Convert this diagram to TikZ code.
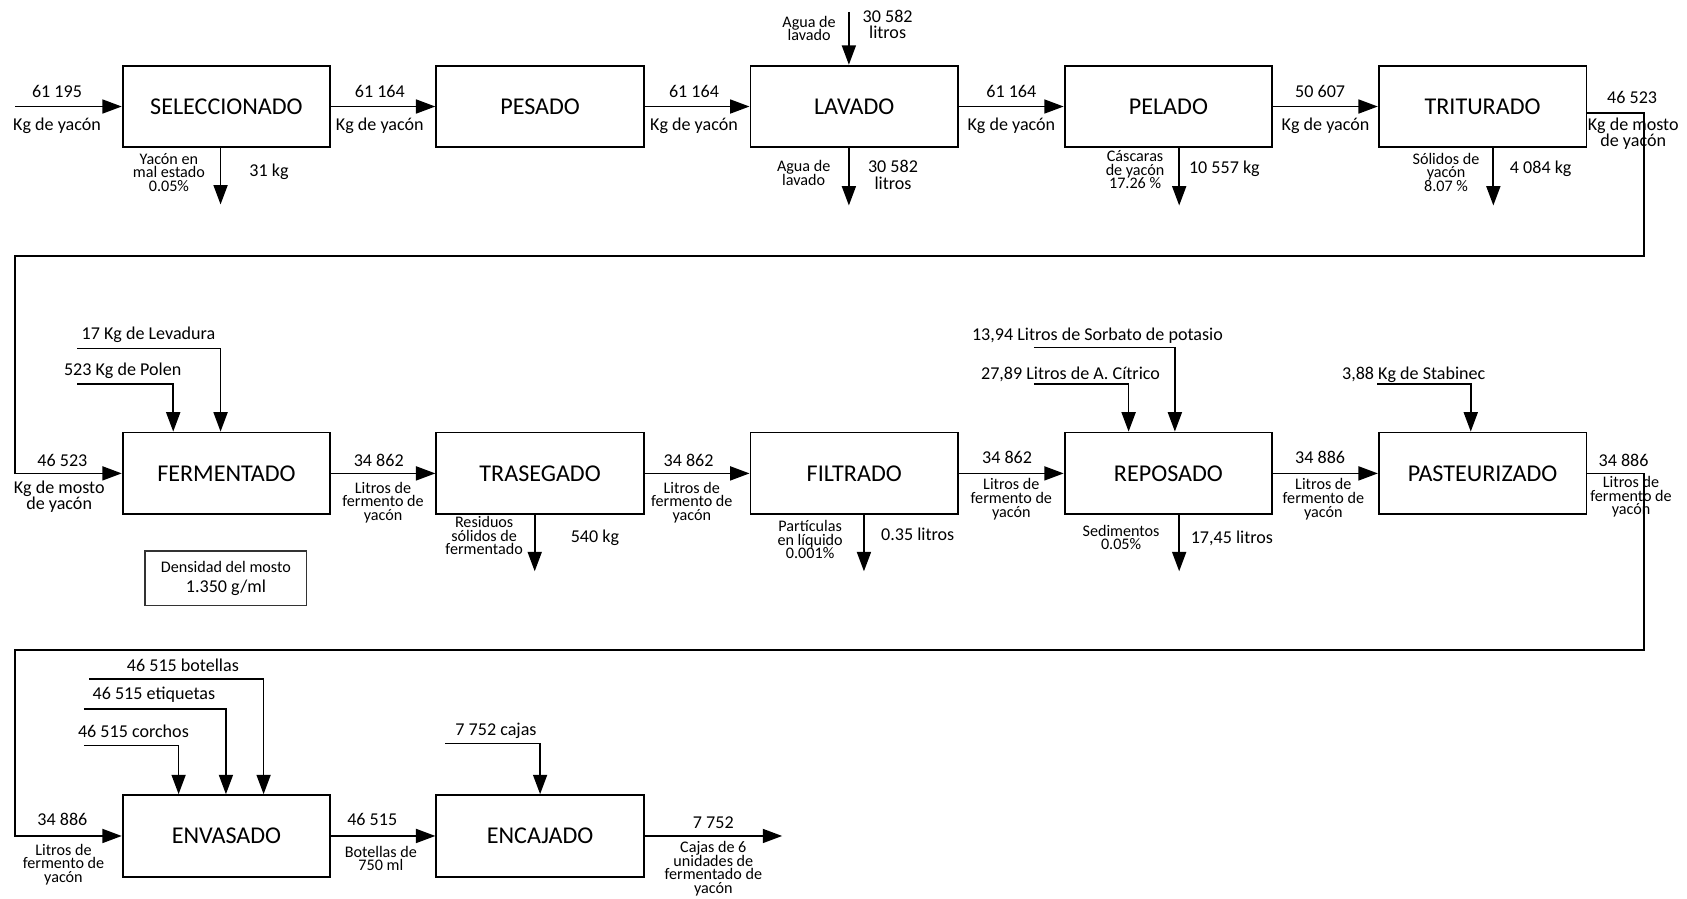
\documentclass[tikz,border=0pt]{standalone}
\usepackage{fontspec}
\setmainfont{Carlito}
\usepackage{tikz}
\usetikzlibrary{arrows.meta}
\newcommand\boxfont{\fontsize{11.2}{13}\selectfont}
\newcommand\qfont{\fontsize{8.4}{7.6}\selectfont\lineskiplimit=-20pt}
\newcommand\nfont{\fontsize{7.5}{6.3}\selectfont\lineskiplimit=-20pt}
\tikzset{
  proc/.style={draw, line width=0.85pt, minimum width=96.5pt, minimum height=38pt, inner sep=0pt, font=\boxfont},
  flow/.style={line width=0.8pt, -{Triangle[length=9pt,width=6.5pt]}},
  qty/.style={inner sep=0pt, align=center, font=\qfont},
  note/.style={inner sep=0pt, align=center, font=\nfont},
}
\begin{document}
\begin{tikzpicture}[x=0.5pt, y=0.5pt, yscale=-1]
\useasboundingbox (0,0) rectangle (1568,835);
\node[proc] (sel) at (210.5,99) {SELECCIONADO};
\node[proc] (pes) at (502,99) {PESADO};
\node[proc] (lav) at (794,99) {LAVADO};
\node[proc] (pel) at (1086,99) {PELADO};
\node[proc] (tri) at (1378,99) {TRITURADO};
\node[proc] (fer) at (210.5,440) {FERMENTADO};
\node[proc] (tra) at (502,440) {TRASEGADO};
\node[proc] (fil) at (794,440) {FILTRADO};
\node[proc] (rep) at (1086,440) {REPOSADO};
\node[proc] (pas) at (1378,440) {PASTEURIZADO};
\node[proc] (env) at (210.5,777) {ENVASADO};
\node[proc] (enc) at (502,777) {ENCAJADO};
\node[draw=black!80, line width=0.7pt, minimum width=75pt, minimum height=25.5pt, align=center, font=\nfont] (dens) at (210,537.5) {Densidad del mosto\\[3pt]{\qfont 1.350 g/ml}};

\coordinate (start) at (14,99);
\draw[flow] (start) -- (sel);
\node[qty] (q1a) at (53,85) {61 195};
\node[qty] (q1b) at (53,117) {Kg de yacón};
\draw[flow] (sel) -- (pes);
\node[qty] (q2a) at (353,85) {61 164};
\node[qty] (q2b) at (353,117) {Kg de yacón};
\draw[flow] (pes) -- (lav);
\node[qty] (q3a) at (645,85) {61 164};
\node[qty] (q3b) at (645,117) {Kg de yacón};
\draw[flow] (lav) -- (pel);
\node[qty] (q4a) at (940,85) {61 164};
\node[qty] (q4b) at (940,117) {Kg de yacón};
\draw[flow] (pel) -- (tri);
\node[qty] (q5a) at (1227,85) {50 607};
\node[qty] (q5b) at (1232,117) {Kg de yacón};

\coordinate (selout) at (205,190);
\draw[flow] (sel.south -| selout) -- (selout);
\node[note] (n1) at (157,160) {Yacón en\\mal estado\\0.05\%};
\node[qty] (n1q) at (250,160) {31 kg};
\coordinate (lavin) at (789,11);
\draw[flow] (lavin) -- (lavin |- lav.north);
\node[note] (n2) at (752,26.5) {Agua de\\lavado};
\node[qty] (n2q) at (825,22.5) {30 582\\litros};
\coordinate (lavout) at (789,191);
\draw[flow] (lav.south -| lavout) -- (lavout);
\node[note] (n3) at (747,160.5) {Agua de\\lavado};
\node[qty] (n3q) at (830,162.5) {30 582\\litros};
\coordinate (pelout) at (1096,191);
\draw[flow] (pel.south -| pelout) -- (pelout);
\node[note] (n4) at (1055,158) {Cáscaras\\de yacón\\17.26 \%};
\node[qty] (n4q) at (1138,157) {10 557 kg};
\coordinate (triout) at (1388,191);
\draw[flow] (tri.south -| triout) -- (triout);
\node[note] (n5) at (1344,160) {Sólidos de\\yacón\\8.07 \%};
\node[qty] (n5q) at (1432,157) {4 084 kg};

\coordinate (tristart) at (1474,105);
\coordinate (ret1) at (1528,238);
\coordinate (ret2) at (14,238);
\draw[flow] (tri.east |- tristart) -| (ret1) -- (ret2) |- (fer);
\node[qty] (q6a) at (1517,91) {46 523};
\node[qty] (q6b) at (1518,124.5) {Kg de mosto\\de yacón};
\node[qty] (q7a) at (58,428) {46 523};
\node[qty] (q7b) at (55,461.5) {Kg de mosto\\de yacón};

\coordinate (levA) at (72,324);
\coordinate (levB) at (205,324);
\draw[flow] (levA) -- (levB) -- (levB |- fer.north);
\node[qty] (levT) at (138,311) {17 Kg de Levadura};
\coordinate (polA) at (72,357);
\coordinate (polB) at (161,357);
\draw[flow] (polA) -- (polB) -- (polB |- fer.north);
\node[qty] (polT) at (114,345) {523 Kg de Polen};

\draw[flow] (fer) -- (tra);
\node[qty] (q8a) at (352,428) {34 862};
\node[note] (q8b) at (356,467) {Litros de\\fermento de\\yacón};
\draw[flow] (tra) -- (fil);
\node[qty] (q9a) at (640,428) {34 862};
\node[note] (q9b) at (643,467) {Litros de\\fermento de\\yacón};
\draw[flow] (fil) -- (rep);
\node[qty] (q10a) at (936,425) {34 862};
\node[note] (q10b) at (940,464) {Litros de\\fermento de\\yacón};
\draw[flow] (rep) -- (pas);
\node[qty] (q11a) at (1227,425) {34 886};
\node[note] (q11b) at (1230,464) {Litros de\\fermento de\\yacón};

\coordinate (traout) at (497,531);
\draw[flow] (tra.south -| traout) -- (traout);
\node[note] (n6) at (450,498) {Residuos\\sólidos de\\fermentado};
\node[qty] (n6q) at (553,500) {540 kg};
\coordinate (filout) at (803,531);
\draw[flow] (fil.south -| filout) -- (filout);
\node[note] (n7) at (753,501.5) {Partículas\\en líquido\\0.001\%};
\node[qty] (n7q) at (853,497) {0.35 litros};
\coordinate (repout) at (1096,531);
\draw[flow] (rep.south -| repout) -- (repout);
\node[note] (n8) at (1042,499.5) {Sedimentos\\0.05\%};
\node[qty] (n8q) at (1145,500) {17,45 litros};

\coordinate (sorA) at (961,323);
\coordinate (sorB) at (1092,323);
\draw[flow] (sorA) -- (sorB) -- (sorB |- rep.north);
\node[qty] (sorT) at (1020,312) {13,94 Litros de Sorbato de potasio};
\coordinate (citA) at (961,357);
\coordinate (citB) at (1049,357);
\draw[flow] (citA) -- (citB) -- (citB |- rep.north);
\node[qty] (citT) at (995,348) {27,89 Litros de A. Cítrico};
\coordinate (stbA) at (1280,357);
\coordinate (stbB) at (1367,357);
\draw[flow] (stbA) -- (stbB) -- (stbB |- pas.north);
\node[qty] (stbT) at (1314,348) {3,88 Kg de Stabinec};

\coordinate (ret3) at (1528,604);
\coordinate (ret4) at (14,604);
\draw[flow] (pas) -| (ret3) -- (ret4) |- (env);
\node[qty] (q12a) at (1509,428) {34 886};
\node[note] (q12b) at (1516,462) {Litros de\\fermento de\\yacón};
\node[qty] (q13a) at (58,762) {34 886};
\node[note] (q13b) at (59,803.5) {Litros de\\fermento de\\yacón};

\coordinate (botA) at (83,631);
\coordinate (botB) at (245,631);
\draw[flow] (botA) -- (botB) -- (botB |- env.north);
\node[qty] (botT) at (170,618) {46 515 botellas};
\coordinate (etiA) at (78,659);
\coordinate (etiB) at (210,659);
\draw[flow] (etiA) -- (etiB) -- (etiB |- env.north);
\node[qty] (etiT) at (143,646) {46 515 etiquetas};
\coordinate (corA) at (78,693);
\coordinate (corB) at (166,693);
\draw[flow] (corA) -- (corB) -- (corB |- env.north);
\node[qty] (corT) at (124,680) {46 515 corchos};

\draw[flow] (env) -- (enc);
\node[qty] (q14a) at (346,762) {46 515};
\node[note] (q14b) at (354,798) {Botellas de\\750 ml};
\coordinate (cajA) at (414,691);
\coordinate (cajB) at (502,691);
\draw[flow] (cajA) -- (cajB) -- (cajB |- enc.north);
\node[qty] (cajT) at (461,679) {7 752 cajas};
\coordinate (fin) at (727,777);
\draw[flow] (enc) -- (fin);
\node[qty] (q15a) at (663,765) {7 752};
\node[note] (q15b) at (663,807.5) {Cajas de 6\\unidades de\\fermentado de\\yacón};
\end{tikzpicture}
\end{document}
